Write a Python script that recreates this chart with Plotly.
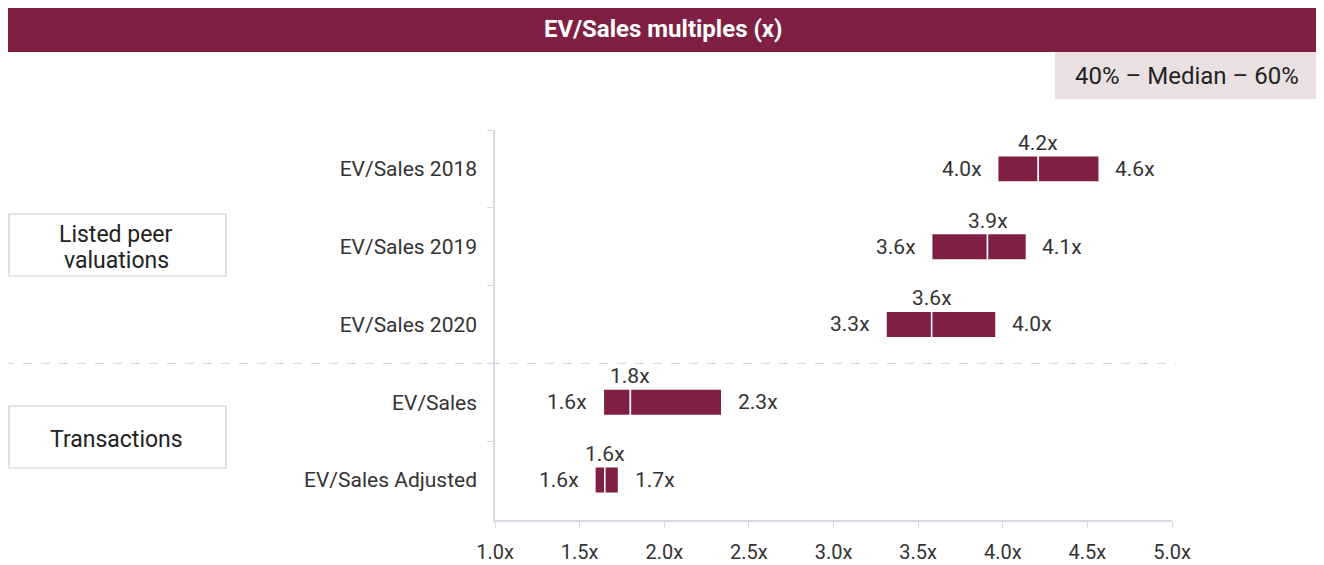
import plotly.graph_objects as go

# EV/Sales multiples, 40th percentile / median / 60th percentile
categories = ["EV/Sales 2018", "EV/Sales 2019", "EV/Sales 2020", "EV/Sales", "EV/Sales Adjusted"]
low_40 = [3.97, 3.58, 3.31, 1.64, 1.59]
median = [4.21, 3.91, 3.58, 1.80, 1.649]
high_60 = [4.57, 4.14, 3.96, 2.34, 1.73]
x_ticks = [1.0, 1.5, 2.0, 2.5, 3.0, 3.5, 4.0, 4.5, 5.0]
groups = [["Listed peer", "valuations"], ["Transactions"]]

# the page has an 8px body margin, so the figure is a little smaller
W, H = 1316, 557
L, R, T, B = 487, 152, 122, 45
# plot area in page pixels
PX0, PX1, PY0, PY1 = 495, 1172, 130, 520
MAROON = "#7f1f44"
FONT = "Roboto"


def px_x(px):
    return (px - PX0) / (PX1 - PX0)


def px_y(py):
    return (PY1 - py) / (PY1 - PY0)


fig = go.Figure()

fig.add_trace(go.Bar(
    y=categories, x=[m - lo for lo, m in zip(low_40, median)], base=low_40,
    orientation="h", width=0.34,
    marker=dict(color=MAROON, line=dict(color="white", width=1.5)),
    hoverinfo="skip", showlegend=False))
fig.add_trace(go.Bar(
    y=categories, x=[h - m for m, h in zip(median, high_60)], base=median,
    orientation="h", width=0.34,
    marker=dict(color=MAROON, line=dict(color="white", width=1.5)),
    hoverinfo="skip", showlegend=False))

# value labels
for c, lo, m, hi in zip(categories, low_40, median, high_60):
    fig.add_annotation(x=lo, y=c, text=f"{lo:.1f}x", showarrow=False,
                       xanchor="right", xshift=-14, font=dict(size=21, color="#333"))
    fig.add_annotation(x=hi, y=c, text=f"{hi:.1f}x", showarrow=False,
                       xanchor="left", xshift=14, font=dict(size=21, color="#333"))
    fig.add_annotation(x=m, y=c, text=f"{m:.1f}x", showarrow=False,
                       xanchor="center", yanchor="bottom", yshift=12,
                       font=dict(size=21, color="#333"))

# separator between peers and transactions
fig.add_shape(type="line", xref="paper", yref="y",
              x0=px_x(5), x1=px_x(1176), y0=2.5, y1=2.5,
              line=dict(color="#c9d3e0", width=1, dash="dash"))

# group boxes
for lines, cy in zip(groups, [245, 437]):
    fig.add_shape(type="rect", xref="paper", yref="paper",
                  x0=px_x(9), x1=px_x(226), y0=px_y(cy - 31), y1=px_y(cy + 31),
                  line=dict(color="#cccccc", width=1.2), fillcolor="white")
    n = len(lines)
    for i, t in enumerate(lines):
        ty = cy + 2 + (i - (n - 1) / 2) * 26
        fig.add_annotation(xref="paper", yref="paper", x=px_x(116), y=px_y(ty),
                           xanchor="center", yanchor="middle",
                           text=t, showarrow=False, font=dict(size=23, color="#222"))

# title bar
fig.add_shape(type="rect", xref="paper", yref="paper",
              x0=px_x(5), x1=px_x(1320), y0=px_y(52), y1=px_y(5),
              line=dict(width=0), fillcolor=MAROON)
fig.add_annotation(xref="paper", yref="paper", x=px_x(663), y=px_y(29),
                   xanchor="center", yanchor="middle",
                   text="<b>EV/Sales multiples (x)</b>", showarrow=False,
                   font=dict(size=24, color="white"))

# legend box
fig.add_shape(type="rect", xref="paper", yref="paper",
              x0=px_x(1055), x1=px_x(1320), y0=px_y(99), y1=px_y(52),
              line=dict(width=0), fillcolor="#ebe0e1")
fig.add_annotation(xref="paper", yref="paper", x=px_x(1187), y=px_y(76),
                   xanchor="center", yanchor="middle",
                   text="40% – Median – 60%", showarrow=False,
                   font=dict(size=24, color="#222"))

fig.update_layout(
    width=W, height=H, barmode="overlay",
    margin=dict(l=L, r=R, t=T, b=B),
    paper_bgcolor="white", plot_bgcolor="white",
    font=dict(family=FONT, color="#333"),
)
fig.update_xaxes(range=[1.0, 5.0], tickvals=x_ticks,
                 ticktext=[f"{v:.1f}x" for v in x_ticks],
                 showgrid=False, zeroline=False, showline=True,
                 linecolor="#d5dbe5", linewidth=1.5, ticks="outside",
                 ticklen=6, tickcolor="#d5dbe5", ticklabelstandoff=7,
                 automargin=False, tickfont=dict(size=20, color="#333"))
fig.update_yaxes(categoryorder="array", categoryarray=categories,
                 autorange="reversed", showgrid=False, zeroline=False,
                 showline=True, linecolor="#d5dbe5", linewidth=1.5,
                 ticks="outside", tickson="boundaries", ticklen=6,
                 tickcolor="#d5dbe5", ticklabelstandoff=12, automargin=False,
                 tickfont=dict(size=21, color="#333"))

fig.write_html("out.html")
